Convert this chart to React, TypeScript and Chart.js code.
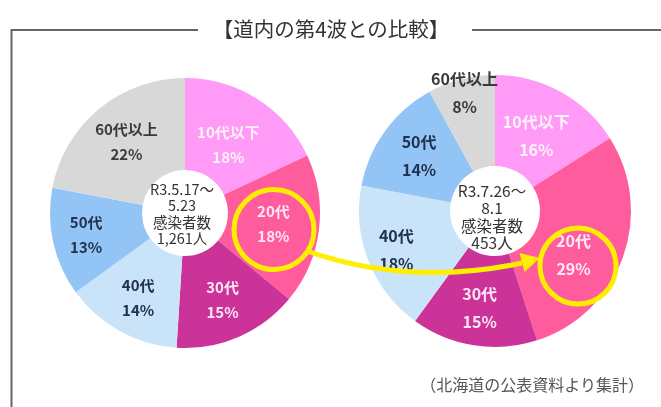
import React, { useEffect, useRef } from "react";
import { Chart, registerables } from "chart.js";

Chart.register(...registerables);

const categories = ["10代以下", "20代", "30代", "40代", "50代", "60代以上"];
const wave4Values = [18, 18, 15, 14, 13, 22];
const wave5Values = [16, 29, 15, 18, 14, 8];
const wave4CenterLines = ["R3.5.17～", "5.23", "感染者数", "1,261人"];
const wave5CenterLines = ["R3.7.26～", "8.1", "感染者数", "453人"];
const titleText = "【道内の第4波との比較】";
const sourceText = "（北海道の公表資料より集計）";

const W = 661;
const H = 407;
const FONT = '"Noto Sans CJK JP", "Noto Sans", sans-serif';

const sliceColors = ["#FF9BF6", "#FF5C9D", "#CC3399", "#C9E4F9", "#92C5F5", "#D8D8D8"];
const labelColors = ["#FFF2FC", "#FFEAF4", "#FFE6F6", "#22324F", "#22324F", "#3A3A3A"];

const sliceLabelPlugin = {
  id: "sliceLabels",
  afterDatasetsDraw(chart: any, _args: any, opts: any) {
    const ctx = chart.ctx;
    const meta = chart.getDatasetMeta(0);
    const values = chart.data.datasets[0].data as number[];
    ctx.save();
    ctx.textAlign = "center";
    ctx.textBaseline = "middle";
    meta.data.forEach((arc: any, i: number) => {
      const p = arc.getProps(["x", "y", "startAngle", "endAngle", "outerRadius"], true);
      const mid = (p.startAngle + p.endAngle) / 2 + (opts.angleShift?.[i] || 0);
      const r = p.outerRadius * opts.radius[i];
      const lx = p.x + Math.cos(mid) * r;
      const ly = p.y + Math.sin(mid) * r;
      ctx.fillStyle = labelColors[i];
      ctx.font = `${opts.weight} ${opts.size}px ${FONT}`;
      ctx.fillText(chart.data.labels[i], lx, ly - opts.gap / 2);
      ctx.fillText(`${values[i]}%`, lx, ly + opts.gap / 2);
    });
    // centre text
    const c = meta.data[0].getProps(["x", "y"], true);
    ctx.fillStyle = "#333333";
    ctx.font = `${opts.centerSize}px ${FONT}`;
    const lines: string[] = opts.centerLines;
    const lh = opts.centerLineHeight;
    const top = c.y + opts.centerDy - ((lines.length - 1) * lh) / 2;
    lines.forEach((t, k) => ctx.fillText(t, c.x + opts.centerDx, top + k * lh));
    ctx.restore();
  },
};

function Donut(props: {
  values: number[];
  cx: number;
  cy: number;
  r: number;
  hole: number;
  labelOpts: any;
}) {
  const ref = useRef<HTMLCanvasElement>(null);
  useEffect(() => {
    const { values, cx, cy, r, hole, labelOpts } = props;
    const chart = new Chart(ref.current as HTMLCanvasElement, {
      type: "doughnut",
      data: {
        labels: categories,
        datasets: [
          {
            data: values,
            backgroundColor: sliceColors,
            borderWidth: 0,
            hoverOffset: 0,
          },
        ],
      },
      options: {
        responsive: false,
        animation: false,
        events: [],
        cutout: hole,
        layout: {
          padding: { left: cx - r, top: cy - r, right: W - cx - r, bottom: H - cy - r },
        },
        plugins: {
          legend: { display: false },
          tooltip: { enabled: false },
          sliceLabels: labelOpts,
        } as any,
      },
      plugins: [sliceLabelPlugin],
    });
    return () => chart.destroy();
  }, []);
  return (
    <canvas
      ref={ref}
      width={W}
      height={H}
      style={{ position: "absolute", left: 0, top: 0, width: W, height: H }}
    />
  );
}

export default function App() {
  const yellow = "#FFEE00";
  return (
    <div
      style={{
        position: "fixed",
        left: 0,
        top: 0,
        width: W,
        height: H,
        overflow: "hidden",
        background: "#ffffff",
      }}
    >
      <Donut
        values={wave4Values}
        cx={185}
        cy={213}
        r={135}
        hole={43}
        labelOpts={{
          radius: [0.6, 0.66, 0.7, 0.72, 0.75, 0.68],
          gap: 25,
          size: 15,
          weight: "bold",
          centerLines: wave4CenterLines,
          centerSize: 14.5,
          centerLineHeight: 16.5,
          centerDx: -3,
          centerDy: 1,
        }}
      />
      <Donut
        values={wave5Values}
        cx={495}
        cy={211}
        r={136}
        hole={45}
        labelOpts={{
          radius: [0.63, 0.66, 0.72, 0.78, 0.69, 0.9],
          angleShift: [0, 0.16, 0, 0, 0, 0],
          gap: 28,
          size: 16,
          weight: "bold",
          centerLines: wave5CenterLines,
          centerSize: 15.5,
          centerLineHeight: 17.5,
          centerDx: -3,
          centerDy: 6,
        }}
      />
      <svg
        width={W}
        height={H}
        style={{ position: "absolute", left: 0, top: 0 }}
      >
        <line x1={11.5} y1={30} x2={198} y2={30} stroke="#666" strokeWidth={2} />
        <line x1={472} y1={30} x2={661} y2={30} stroke="#666" strokeWidth={2} />
        <line x1={11.5} y1={29} x2={11.5} y2={407} stroke="#666" strokeWidth={2} />
        <text
          x={331}
          y={37}
          textAnchor="middle"
          fontFamily={FONT}
          fontSize={20.5}
          fill="#333"
        >
          {titleText}
        </text>
        <text
          x={644}
          y={391}
          textAnchor="end"
          fontFamily={FONT}
          fontSize={16}
          fill="#555"
        >
          {sourceText}
        </text>
        <circle cx={274} cy={229.5} r={40} fill="none" stroke={yellow} strokeWidth={5} />
        <circle cx={578} cy={266} r={38} fill="none" stroke={yellow} strokeWidth={5} />
        <path
          d="M 307 251 Q 410 287 522 263"
          fill="none"
          stroke={yellow}
          strokeWidth={5}
        />
        <polygon points="540,258 519.5,253 524.5,272" fill={yellow} />
      </svg>
    </div>
  );
}
